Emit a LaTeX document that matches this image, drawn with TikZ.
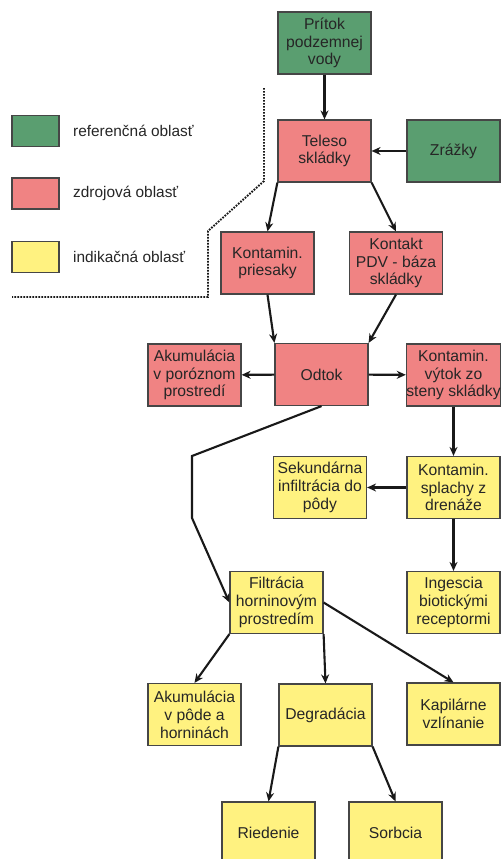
\documentclass[tikz,border=0pt]{standalone}
\usepackage{fontspec}
\setmainfont{Liberation Sans}
\usetikzlibrary{arrows.meta}
\definecolor{cgreen}{RGB}{90,158,112}
\definecolor{cred}{RGB}{240,131,131}
\definecolor{cyellow}{RGB}{255,242,128}
\definecolor{cborder}{RGB}{70,70,70}
\tikzset{
  box/.style={draw=cborder, line width=1.2pt, minimum width=93pt, minimum height=62pt,
    inner sep=0pt, align=center, text=black!85, font=\fontsize{15.7}{17.8}\selectfont},
  gbox/.style={box, fill=cgreen},
  rbox/.style={box, fill=cred},
  ybox/.style={box, fill=cyellow},
  lgbox/.style={draw=cborder, line width=1.1pt, minimum width=47pt, minimum height=31pt, inner sep=0pt},
  lgtext/.style={anchor=west, inner sep=0pt, text=black!85, font=\fontsize{15.4}{17}\selectfont},
  arr/.style={draw=black!90, line width=2.1pt, -{Stealth[length=9pt,width=8pt]}},
  border line/.style={draw=black!90, line width=1.9pt, dash pattern=on 1.7pt off 1.3pt},
}
\begin{document}
\begin{tikzpicture}[x=1pt,y=-1pt]
\clip (0,0) rectangle (501,859);
\fill[white] (0,0) rectangle (501,859);
% legend
\node[lgbox, fill=cgreen] (lg) at (35.5,131) {};
\node[lgbox, fill=cred] (lr) at (35.5,193.5) {};
\node[lgbox, fill=cyellow] (ly) at (35.5,257) {};
\node[lgtext] (lgt) at (73,131) {referenčná oblasť};
\node[lgtext] (lrt) at (73,193.5) {zdrojová oblasť};
\node[lgtext] (lyt) at (73,257) {indikačná oblasť};
% dotted boundary
\coordinate (d1) at (264,88);
\coordinate (d2) at (264,181);
\coordinate (d3) at (208,231);
\coordinate (d4) at (208,297);
\coordinate (d5) at (12,297);
\draw[border line] (d1) -- (d2) -- (d3) -- (d4) -- (d5);
% nodes
\node[gbox] (pritok) at (324.5,43) {Prítok\\podzemnej\\vody};
\node[rbox] (teleso) at (324.5,151) {Teleso\\skládky};
\node[gbox] (zrazky) at (453.5,151) {Zrážky};
\node[rbox] (kpri) at (267.5,263) {Kontamin.\\priesaky};
\node[rbox] (kontakt) at (396,263) {Kontakt\\PDV - báza\\skládky};
\node[rbox] (akpor) at (194.5,375) {Akumulácia\\v poróznom\\prostredí};
\node[rbox] (odtok) at (321.5,374.5) {Odtok};
\node[rbox] (vytok) at (453.5,375) {Kontamin.\\výtok zo\\steny skládky};
\node[ybox] (sekund) at (320,487.5) {Sekundárna\\infiltrácia do\\pôdy};
\node[ybox] (splachy) at (453.5,487.5) {Kontamin.\\splachy z\\drenáže};
\node[ybox] (filtr) at (276.5,602.5) {Filtrácia\\horninovým\\prostredím};
\node[ybox] (ingescia) at (453.5,602.5) {Ingescia\\biotickými\\receptormi};
\node[ybox] (akpoda) at (194.5,714.5) {Akumulácia\\v pôde a\\horninách};
\node[ybox] (degrad) at (325.5,715) {Degradácia};
\node[ybox] (kapil) at (453.5,714) {Kapilárne\\vzlínanie};
\node[ybox] (ried) at (268.5,833) {Riedenie};
\node[ybox] (sorb) at (395.5,833) {Sorbcia};
% connectors
\draw[arr] (pritok) -- (teleso);
\draw[arr] (zrazky) -- (teleso);
\draw[arr] (teleso.south west) -- (kpri.north);
\draw[arr] (teleso.south east) -- (kontakt.north);
\draw[arr] (kpri.south) -- (odtok.north west);
\draw[arr] (kontakt.south) -- (odtok.north east);
\draw[arr] (odtok) -- (akpor);
\draw[arr] (odtok) -- (vytok);
\draw[arr] (vytok) -- (splachy);
\draw[arr] (splachy) -- (sekund);
\draw[arr] (splachy) -- (ingescia);
\coordinate (b1) at (192,456);
\coordinate (b2) at (192,518);
\draw[arr] (odtok.south) -- (b1) -- (b2) -- (filtr.west);
\draw[arr] (filtr.south west) -- (akpoda.north);
\draw[arr] (filtr.south east) -- (degrad.north);
\draw[arr] (filtr.east) -- (kapil.north);
\draw[arr] (degrad.south west) -- (ried.north);
\draw[arr] (degrad.south east) -- (sorb.north);
\end{tikzpicture}
\end{document}
